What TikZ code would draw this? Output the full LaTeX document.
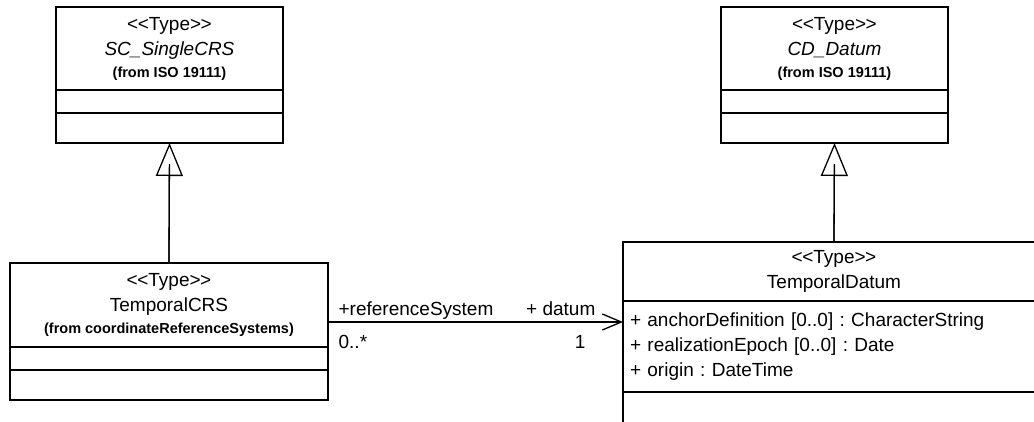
\documentclass[tikz,border=0pt]{standalone}
\usepackage{fontspec}
\setmainfont{Liberation Sans}
\usetikzlibrary{positioning, arrows.meta}

\newcommand{\stereotype}[1]{<\kern-0.5pt<#1>\kern-0.5pt>}
\newcommand{\fromfont}{\fontsize{14.5}{17}\selectfont\bfseries}
\frenchspacing

\begin{document}
\begin{tikzpicture}[
    x=1pt, y=1pt,
    font=\fontsize{19}{25}\selectfont,
    classhead/.style={rectangle, draw=black, line width=1.3pt, fill=white, align=center, inner sep=0pt, outer sep=0pt, anchor=north west},
    compartment/.style={rectangle, draw=black, line width=1.3pt, fill=white, inner sep=0pt, outer sep=0pt},
    inherit/.style={-{Triangle[open, length=33pt, width=27pt]}, line width=1.3pt},
    assoc/.style={-{Straight Barb[length=19pt, width=16pt]}, line width=1.3pt},
    rolelabel/.style={inner sep=0pt}
]
\useasboundingbox (0,0) rectangle (1034,421);
\clip (0,0) rectangle (1034,421);

% ==================== SUPERTYPES (ISO 19111) ====================
\node[classhead, minimum width=227, minimum height=83] (single) at (56,414)
    {\stereotype{Type}\\\textit{SC\_SingleCRS}\\[-3pt]{\fromfont (from ISO 19111)}};
\node[compartment, minimum width=227, minimum height=23, below=0pt of single] (singleattr) {};
\node[compartment, minimum width=227, minimum height=30, below=0pt of singleattr] (singleops) {};

\node[classhead, minimum width=227, minimum height=83] (cddatum) at (721,414)
    {\stereotype{Type}\\\textit{CD\_Datum}\\[-3pt]{\fromfont (from ISO 19111)}};
\node[compartment, minimum width=227, minimum height=23, below=0pt of cddatum] (cddatumattr) {};
\node[compartment, minimum width=227, minimum height=30, below=0pt of cddatumattr] (cddatumops) {};

% ==================== TEMPORAL TYPES ====================
\node[classhead, minimum width=318, minimum height=84] (crs) at (10,158)
    {\stereotype{Type}\\TemporalCRS\\[-3pt]{\fromfont (from coordinateReferenceSystems)}};
\node[compartment, minimum width=318, minimum height=23, below=0pt of crs] (crsattr) {};
\node[compartment, minimum width=318, minimum height=30, below=0pt of crsattr] (crsops) {};

\node[classhead, minimum width=422, minimum height=59] (tdatum) at (623,179)
    {\stereotype{Type}\\TemporalDatum};
\node[compartment, minimum width=422, minimum height=91, text width=408, inner xsep=7pt, align=left, below=0pt of tdatum] (tdatumattr)
    {+ anchorDefinition [0..0] : CharacterString\\+ realizationEpoch [0..0] : Date\\+ origin : DateTime};
\node[compartment, minimum width=422, minimum height=40, below=0pt of tdatumattr] (tdatumops) {};

% ==================== RELATIONS ====================
% generalisations
\draw[inherit] (crs.north) -- (singleops.south);
\draw[line width=1.3pt, shorten >=21pt] (crs.north) -- (singleops.south);
\draw[inherit] (tdatum.north) -- (cddatumops.south);
\draw[line width=1.3pt, shorten >=21pt] (tdatum.north) -- (cddatumops.south);

% association
\coordinate (assocline) at (0,99);
\draw[assoc] (crs.east |- assocline) -- (tdatumattr.west |- assocline)
    node[rolelabel, pos=0, anchor=base west, xshift=10pt, yshift=7pt] (srcrole) {+referenceSystem}
    node[rolelabel, pos=0, anchor=base west, xshift=10pt, yshift=-26pt] (srcmult) {0..*}
    node[rolelabel, pos=1, anchor=base east, xshift=-27pt, yshift=7pt] (dstrole) {+ datum}
    node[rolelabel, pos=1, anchor=base east, xshift=-37pt, yshift=-26pt] (dstmult) {1};

\end{tikzpicture}
\end{document}
